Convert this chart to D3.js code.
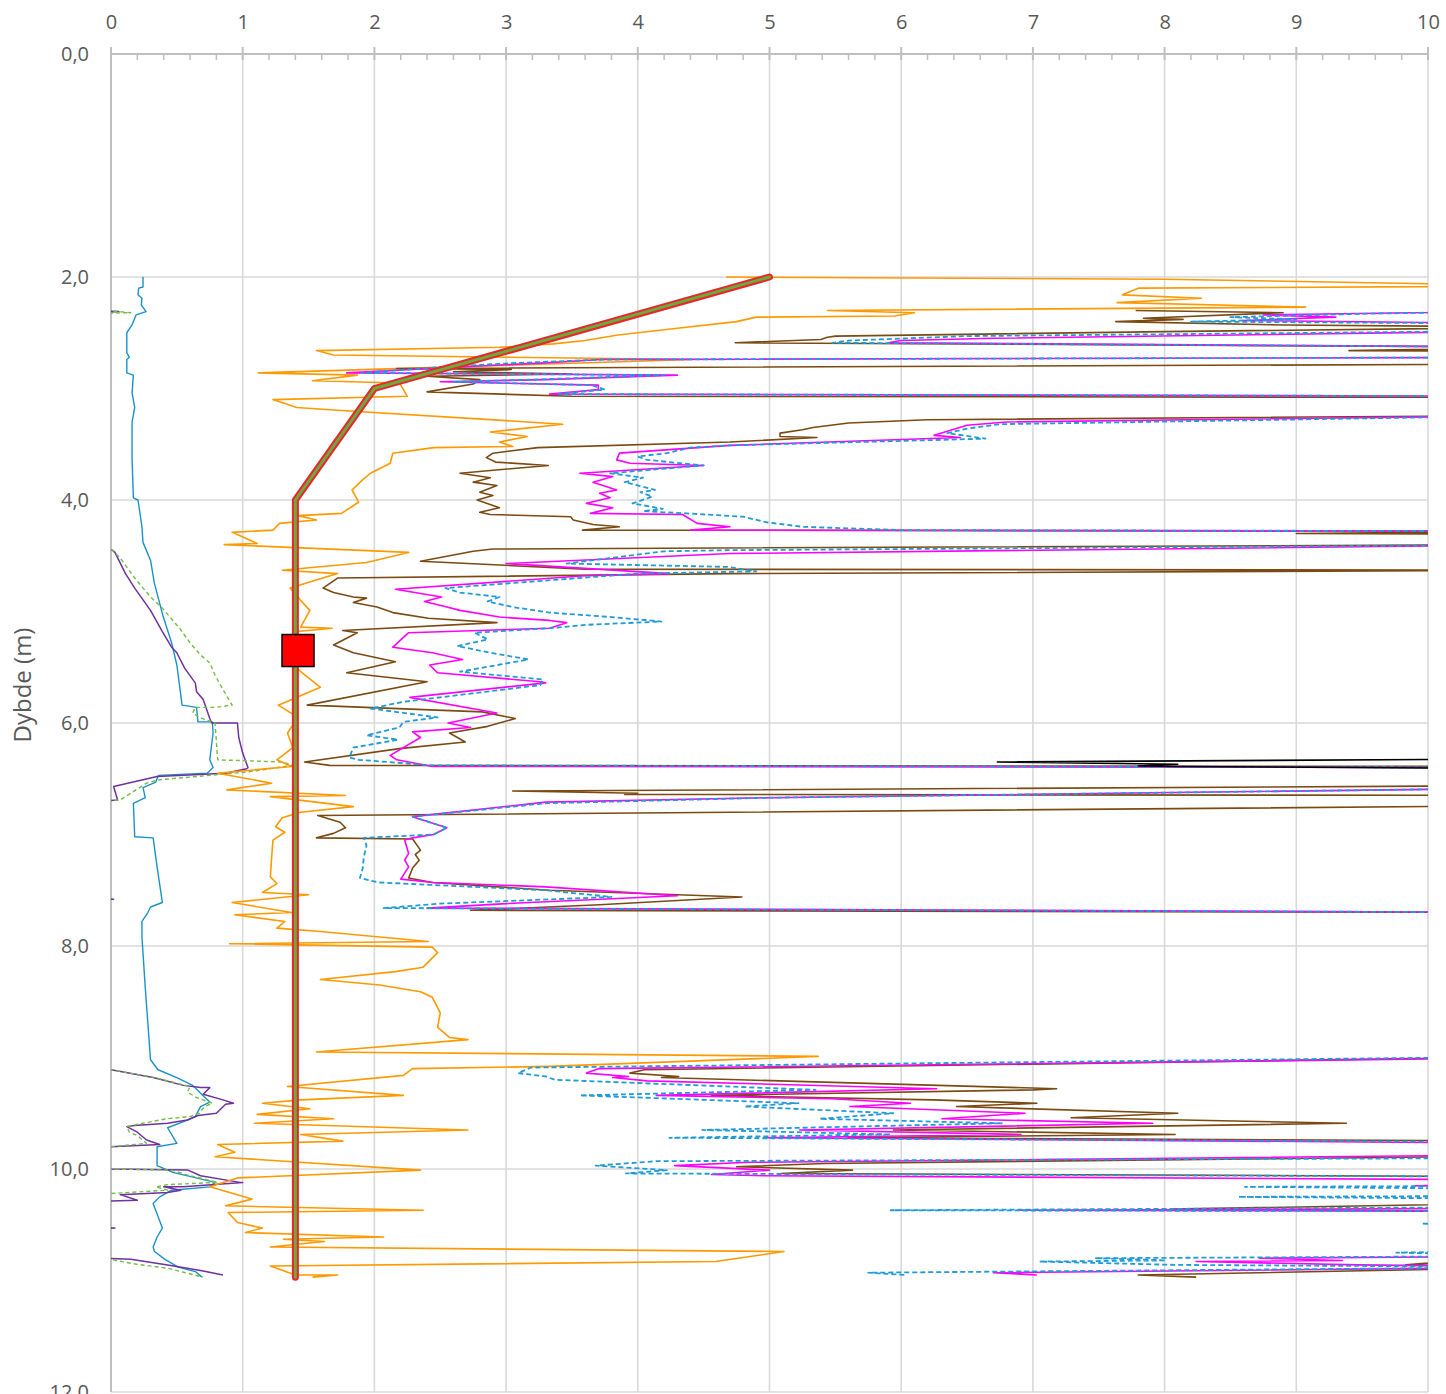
<!DOCTYPE html>
<html>
<head>
<meta charset="utf-8">
<script src="https://cdn.jsdelivr.net/npm/d3@7"></script>
<style>
  html, body { margin: 0; padding: 0; background: #fff; }
  svg { display: block; font-family: "Open Sans", "Noto Sans", "Liberation Sans", sans-serif; }
</style>
</head>
<body>
<svg id="chart" width="1446" height="1394"></svg>
<script>
// ---- axis ranges and tick labels ----
const xTicks = [0, 1, 2, 3, 4, 5, 6, 7, 8, 9, 10];
const yTicks = [0, 2, 4, 6, 8, 10, 12];
const yTitle = "Dybde (m)";

// ---- measured profiles: [depth (m), value] ----
const orangeSeries = [
  [2.00,4.67],[2.02,8.0],[2.08,11],[2.10,7.8],[2.16,7.68],[2.19,8.28],[2.23,7.64],[2.27,9.07],[2.30,5.44],[2.32,6.1],
  [2.35,5.95],[2.36,4.9],[2.40,4.75],[2.46,4.3],[2.52,3.85],[2.57,3.6],[2.60,3.36],[2.63,2.95],[2.66,1.56],[2.70,1.69],
  [2.74,4.42],[2.86,1.12],[2.88,1.87],[2.93,1.53],[2.95,2.19],[3.07,2.25],[3.10,1.23],[3.13,1.31],[3.17,1.41],[3.19,1.66],
  [3.32,3.43],[3.39,2.88],[3.43,3.16],[3.48,2.95],[3.52,3.05],[3.53,2.45],[3.58,2.14],[3.67,2.12],[3.76,1.97],[3.82,1.91],
  [3.91,1.83],[4.02,1.88],[4.12,1.75],[4.14,1.42],[4.18,1.56],[4.21,1.28],[4.27,1.23],[4.29,0.92],[4.39,1.11],[4.40,0.86],
  [4.47,2.26],[4.56,1.94],[4.63,1.30],[4.66,1.72],[4.79,1.36],[4.90,1.44],[4.99,1.51],[5.14,1.44],[5.15,1.68],[5.18,1.41],
  [5.52,1.42],[5.68,1.59],[5.84,1.27],[5.95,1.42],[6.09,1.34],[6.22,1.38],[6.33,1.26],[6.39,1.37],[6.45,0.81],[6.54,1.22],
  [6.60,0.88],[6.65,1.78],[6.66,1.21],[6.75,1.84],[6.80,1.44],[6.85,1.30],[6.93,1.25],[6.98,1.32],[7.05,1.23],[7.20,1.22],
  [7.38,1.21],[7.44,1.26],[7.52,1.15],[7.54,1.50],[7.61,0.92],[7.70,1.37],[7.72,0.94],[7.78,1.32],[7.84,1.26],[7.87,1.59],
  [7.96,2.41],[7.98,0.90],[8.01,2.44],[8.06,2.48],[8.19,2.37],[8.23,2.16],[8.30,1.59],[8.35,2.04],[8.41,2.35],[8.46,2.44],
  [8.60,2.50],[8.73,2.48],[8.82,2.57],[8.84,2.71],[8.95,1.56],[8.99,5.37],[9.08,3.33],[9.10,2.29],[9.16,2.22],[9.26,1.34],
  [9.34,2.22],[9.38,1.44],[9.41,1.15],[9.46,1.51],[9.51,1.11],[9.55,1.69],[9.59,1.09],[9.65,2.71],[9.69,1.44],[9.75,1.76],
  [9.78,0.81],[9.85,0.94],[9.89,0.79],[10.01,2.35],[10.08,0.96],[10.16,0.75],[10.27,1.07],[10.33,0.87],[10.37,2.37],[10.39,0.89],
  [10.48,0.96],[10.53,1.15],[10.57,1.02],[10.61,2.07],[10.63,1.31],[10.65,1.62],[10.70,1.21],[10.74,5.11],[10.83,4.59],[10.87,1.21],
  [10.95,1.40],[10.95,1.72],[10.97,1.53]
];

const brownSeries = [
  [2.30,7.78],[2.32,8.9],[2.37,7.84],[2.38,8.14],[2.40,7.63],[2.43,8.9],[2.45,11],[2.49,8.0],[2.53,5.5],[2.54,5.44],
  [2.56,5.39],[2.59,4.74],[2.63,11],[2.66,9.4],[2.67,11],[2.78,11],[2.82,2.17],[2.83,3.04],[2.85,2.6],[2.87,3.5],
  [2.89,2.4],[2.92,2.8],[2.96,2.75],[3.03,2.4],[3.07,3.5],[3.08,11],[3.24,11],[3.28,6.2],[3.31,5.6],[3.35,5.33],
  [3.37,5.25],[3.40,5.08],[3.43,5.08],[3.44,5.36],[3.48,4.70],[3.53,3.24],[3.58,2.90],[3.62,2.85],[3.66,2.92],[3.69,3.32],
  [3.76,2.65],[3.80,2.88],[3.84,2.75],[3.87,2.93],[3.93,2.80],[3.96,2.90],[4.00,2.78],[4.07,2.95],[4.11,2.80],[4.13,2.88],
  [4.15,3.49],[4.18,3.51],[4.22,3.66],[4.24,3.86],[4.27,3.58],[4.28,11],[4.30,9.0],[4.31,11],[4.40,11],[4.43,4.6],
  [4.44,2.9],[4.46,2.75],[4.55,2.35],[4.62,3.6],[4.63,11],[4.66,4.7],[4.70,1.72],[4.79,1.61],[4.83,1.69],[4.87,1.84],
  [4.88,1.94],[4.92,1.84],[4.96,2.02],[5.01,2.14],[5.06,2.41],[5.10,2.93],[5.17,1.76],[5.19,1.87],[5.30,1.69],[5.37,1.84],
  [5.45,2.16],[5.55,1.79],[5.63,2.40],[5.84,1.49],[5.90,2.82],[5.96,3.07],[6.03,2.86],[6.09,2.57],[6.17,2.69],[6.23,2.19],
  [6.35,1.47],[6.38,1.66],[6.39,11],[6.56,11],[6.61,3.05],[6.63,4.0],[6.64,3.9],[6.65,11],[6.74,11],[6.83,1.57],
  [6.89,1.74],[6.94,1.78],[6.99,1.69],[7.03,1.56],[7.04,2.29],[7.14,2.35],[7.18,2.31],[7.23,2.34],[7.30,2.29],[7.39,2.26],
  [7.43,2.44],[7.50,3.33],[7.56,4.79],[7.63,3.71],[7.68,2.73],[7.70,11],[8.99,11],[9.11,4.05],[9.14,3.94],[9.17,4.31],
  [9.18,4.18],[9.28,7.18],[9.29,7.0],[9.34,4.56],[9.38,6.24],[9.41,7.03],[9.44,6.42],[9.50,8.10],[9.54,7.29],[9.59,9.38],
  [9.65,5.94],[9.69,8.08],[9.72,5.59],[9.75,11],[9.88,11],[9.95,5.42],[9.98,4.75],[10.01,5.63],[10.04,5.09],[10.07,11],
  [10.30,11],[10.36,8.06],[10.38,11],[10.75,11],[10.86,9.83],[10.88,11],[10.95,7.80],[10.97,8.24]
];

const magentaSeries = [
  [2.30,11],[2.34,8.75],[2.36,9.3],[2.39,8.6],[2.42,11],[2.48,11],[2.55,6.7],[2.57,6.0],[2.59,5.9],[2.63,11],
  [2.72,11],[2.74,3.72],[2.77,3.3],[2.80,2.75],[2.86,1.79],[2.88,4.3],[2.92,3.3],[2.94,2.5],[2.97,3.7],[3.01,3.7],
  [3.05,3.33],[3.07,11],[3.24,11],[3.30,6.8],[3.33,6.5],[3.42,6.25],[3.44,6.45],[3.51,4.70],[3.58,3.86],[3.64,3.84],
  [3.67,3.94],[3.69,4.50],[3.76,3.56],[3.79,3.81],[3.84,3.66],[3.91,3.84],[3.94,3.71],[3.98,3.79],[4.03,3.61],[4.07,3.81],
  [4.12,3.64],[4.13,4.34],[4.21,4.45],[4.24,4.70],[4.27,4.40],[4.28,11],[4.40,11],[4.48,4.7],[4.57,3.0],[4.66,4.24],
  [4.68,3.6],[4.80,2.16],[4.87,2.51],[4.91,2.38],[4.95,2.52],[4.99,2.65],[5.05,2.95],[5.08,3.33],[5.10,3.46],[5.15,3.33],
  [5.19,2.26],[5.32,2.14],[5.37,2.44],[5.43,2.67],[5.48,2.42],[5.55,2.48],[5.63,3.26],[5.64,3.30],[5.77,2.27],[5.91,2.93],
  [6.00,2.56],[6.04,2.73],[6.08,2.29],[6.13,2.35],[6.29,2.12],[6.33,2.17],[6.39,2.44],[6.40,11],[6.58,11],[6.67,5.0],
  [6.71,3.3],[6.84,2.29],[6.94,2.55],[7.00,2.45],[7.03,2.29],[7.05,2.23],[7.17,2.26],[7.23,2.23],[7.29,2.26],[7.40,2.2],
  [7.43,2.45],[7.47,3.3],[7.55,4.3],[7.62,3.0],[7.66,2.4],[7.70,11],[9.00,11],[9.10,3.70],[9.14,3.61],[9.17,3.93],
  [9.18,3.81],[9.21,4.07],[9.28,6.27],[9.34,4.14],[9.37,5.47],[9.41,6.07],[9.44,5.61],[9.50,6.94],[9.55,6.31],[9.59,7.91],
  [9.65,5.23],[9.69,6.91],[9.72,4.96],[9.77,11],[9.87,11],[9.94,4.84],[9.97,4.28],[10.01,5.0],[10.05,4.56],[10.06,4.96],
  [10.10,11],[10.14,11],[10.15,9.9],[10.17,11],[10.35,11],[10.37,6.89],[10.38,11],[10.78,11],[10.80,8.72],[10.82,9.35],
  [10.83,8.24],[10.86,9.47],[10.88,11],[10.93,6.70],[10.95,7.03]
];

const cyanSeries = [
  [2.30,11],[2.33,9.5],[2.36,8.5],[2.38,9.0],[2.40,8.2],[2.42,11],[2.48,11],[2.53,6.5],[2.57,5.6],[2.59,5.48],
  [2.63,11],[2.72,11],[2.74,3.75],[2.77,3.1],[2.80,2.6],[2.86,1.9],[2.88,4.2],[2.92,3.2],[2.94,2.6],[2.97,3.65],
  [3.01,3.75],[3.05,3.4],[3.07,11],[3.24,11],[3.32,6.75],[3.36,6.5],[3.40,6.35],[3.45,6.64],[3.51,4.70],[3.53,4.40],
  [3.58,4.22],[3.61,4.00],[3.64,4.07],[3.69,4.50],[3.76,3.79],[3.80,4.04],[3.84,3.90],[3.91,4.13],[3.93,4.02],[3.97,4.11],
  [4.03,3.96],[4.08,4.19],[4.10,4.04],[4.12,4.37],[4.15,4.80],[4.20,4.98],[4.24,5.25],[4.27,6.0],[4.28,11],[4.40,11],
  [4.45,4.7],[4.46,4.2],[4.57,3.46],[4.60,4.68],[4.64,4.9],[4.66,4.0],[4.79,2.54],[4.83,2.65],[4.87,2.95],[4.91,2.86],
  [4.96,3.05],[5.01,3.33],[5.05,3.8],[5.09,4.18],[5.12,3.6],[5.15,3.33],[5.19,2.76],[5.25,2.86],[5.31,2.63],[5.37,2.88],
  [5.43,3.17],[5.54,2.65],[5.61,3.28],[5.66,3.26],[5.81,2.22],[5.87,1.97],[5.95,2.48],[5.99,2.22],[6.04,2.19],[6.11,1.94],
  [6.15,2.18],[6.22,1.84],[6.31,1.81],[6.33,1.88],[6.38,2.44],[6.40,11],[6.58,11],[6.67,5.0],[6.72,3.3],[6.84,2.29],
  [6.94,2.55],[7.00,2.45],[7.03,1.92],[7.10,1.94],[7.20,1.92],[7.31,1.91],[7.39,1.89],[7.43,2.03],[7.50,3.3],[7.56,3.8],
  [7.62,2.5],[7.66,2.07],[7.70,11],[8.99,11],[9.09,3.19],[9.14,3.09],[9.17,3.30],[9.20,3.37],[9.29,5.35],[9.34,3.56],
  [9.41,5.22],[9.44,4.81],[9.50,5.94],[9.55,5.38],[9.59,6.77],[9.65,4.49],[9.69,5.92],[9.72,4.24],[9.76,11],[9.90,11],
  [9.93,4.14],[9.97,3.68],[10.01,4.22],[10.04,3.91],[10.07,11],[10.15,11],[10.16,8.61],[10.18,11],[10.24,11],[10.25,8.56],
  [10.27,11],[10.34,11],[10.37,5.92],[10.38,11],[10.48,11],[10.49,9.95],[10.52,11],[10.73,11],[10.75,9.76],[10.78,11],
  [10.80,7.47],[10.82,8.01],[10.83,7.05],[10.86,8.08],[10.88,11],[10.93,5.75],[10.95,6.03]
];

const tealSeries = [
  [2.00,0.243],[2.09,0.243],[2.10,0.21],[2.16,0.205],[2.19,0.235],[2.25,0.23],[2.31,0.266],[2.34,0.19],[2.43,0.16],[2.50,0.12],
  [2.68,0.12],[2.72,0.14],[2.74,0.12],[2.86,0.12],[2.88,0.17],[3.04,0.16],[3.17,0.18],[3.30,0.16],[3.64,0.16],[3.98,0.17],
  [4.00,0.205],[4.24,0.235],[4.38,0.243],[4.54,0.30],[4.75,0.33],[5.04,0.395],[5.28,0.46],[5.48,0.50],[5.84,0.54],[5.86,0.65],
  [5.99,0.66],[5.99,0.77],[6.09,0.775],[6.33,0.75],[6.40,0.775],[6.45,0.73],[6.47,0.36],[6.53,0.34],[6.58,0.243],[6.67,0.26],
  [6.72,0.17],[7.02,0.18],[7.03,0.32],[7.29,0.35],[7.61,0.39],[7.65,0.30],[7.70,0.28],[7.78,0.235],[7.92,0.235],[8.37,0.26],
  [9.02,0.30],[9.11,0.357],[9.18,0.50],[9.25,0.62],[9.32,0.68],[9.40,0.75],[9.44,0.68],[9.53,0.64],[9.56,0.585],[9.63,0.43],
  [9.77,0.50],[9.80,0.35],[9.97,0.35],[10.03,0.47],[10.12,0.79],[10.16,0.75],[10.19,0.46],[10.25,0.37],[10.31,0.32],[10.53,0.39],
  [10.61,0.35],[10.70,0.32],[10.74,0.33],[10.81,0.41],[10.88,0.51],[10.92,0.64],[10.97,0.69]
];

const purpleSeries = [
  [2.29,-0.3],[2.31,0.06],[2.33,-0.3],[4.43,-0.3],[4.45,0.01],[4.47,0.03],[4.66,0.11],[4.79,0.18],[4.99,0.30],[5.18,0.39],
  [5.32,0.46],[5.37,0.50],[5.51,0.56],[5.64,0.64],[5.72,0.65],[5.79,0.70],[5.96,0.75],[6.00,0.765],[6.00,0.96],[6.13,0.97],
  [6.27,1.0],[6.40,1.04],[6.41,1.03],[6.45,0.87],[6.48,0.35],[6.57,0.02],[6.69,0.05],[6.72,-0.3],[7.55,-0.3],[7.58,0.02],
  [7.60,-0.3],[9.10,-0.3],[9.11,0.0],[9.18,0.32],[9.25,0.55],[9.27,0.68],[9.27,0.75],[9.33,0.70],[9.38,0.85],[9.41,0.93],
  [9.42,0.87],[9.50,0.80],[9.52,0.66],[9.56,0.58],[9.59,0.43],[9.61,0.18],[9.62,0.12],[9.67,0.20],[9.74,0.27],[9.78,0.37],
  [9.80,0.0],[9.82,-0.3],[9.98,-0.3],[10.00,0.0],[10.01,0.585],[10.06,0.68],[10.12,0.98],[10.12,1.0],[10.16,0.55],[10.16,0.40],
  [10.19,0.53],[10.21,0.43],[10.23,0.07],[10.28,0.20],[10.30,-0.3],[10.52,-0.3],[10.53,0.03],[10.55,-0.3],[10.79,-0.3],[10.81,0.15],
  [10.86,0.43],[10.91,0.68],[10.95,0.85]
];

const greenSeries = [
  [2.29,-0.3],[2.31,0.06],[2.32,0.15],[2.33,-0.3],[4.43,-0.3],[4.45,0.01],[4.52,0.07],[4.70,0.18],[4.87,0.30],[4.97,0.39],
  [5.15,0.52],[5.28,0.60],[5.39,0.68],[5.46,0.75],[5.57,0.79],[5.70,0.85],[5.84,0.92],[5.86,0.79],[5.86,0.64],[5.91,0.62],
  [5.95,0.67],[6.00,0.79],[6.33,0.81],[6.35,1.3],[6.38,1.38],[6.44,1.03],[6.51,0.36],[6.54,0.27],[6.69,0.07],[6.72,-0.3],
  [9.10,-0.3],[9.11,0.0],[9.18,0.33],[9.26,0.60],[9.31,0.58],[9.36,0.65],[9.41,0.77],[9.44,0.71],[9.50,0.67],[9.53,0.60],
  [9.55,0.42],[9.59,0.24],[9.62,0.12],[9.67,0.14],[9.70,0.20],[9.77,0.27],[9.80,0.0],[9.82,-0.3],[9.98,-0.3],[10.00,0.0],
  [10.01,0.46],[10.05,0.57],[10.12,0.81],[10.14,0.43],[10.16,0.34],[10.19,0.43],[10.22,0.0],[10.24,-0.3],[10.79,-0.3],[10.81,0.0],
  [10.85,0.17],[10.89,0.43],[10.97,0.70]
];

const blackSeries = [
  [6.32,11],[6.35,6.73],[6.37,8.1],[6.385,7.8],[6.39,8.1],[6.41,11]
];

// design profile and the marked point
const designLine = [[2.0,5.0],[3.0,2.0],[4.0,1.4],[10.97,1.4]];
const markerPoint = [[5.35,1.42]];

// ---- layout ----
const svg = d3.select("#chart");
const plot = { left: 111, top: 54, right: 1428, bottom: 1392 };
const x = d3.scaleLinear().domain([0, 10]).range([plot.left, plot.right]);
const y = d3.scaleLinear().domain([0, 12]).range([plot.top, plot.bottom]);

svg.append("rect").attr("width", 1446).attr("height", 1394).attr("fill", "#fff");

svg.append("defs").append("clipPath").attr("id", "plotClip")
  .append("rect")
  .attr("x", plot.left).attr("y", plot.top)
  .attr("width", plot.right - plot.left).attr("height", plot.bottom - plot.top);

// gridlines
const grid = svg.append("g").attr("stroke", "#d9d9d9").attr("stroke-width", 1.6);
grid.selectAll("line.v").data(xTicks.slice(1)).join("line")
  .attr("x1", d => x(d)).attr("x2", d => x(d))
  .attr("y1", plot.top).attr("y2", plot.bottom);
grid.selectAll("line.h").data(yTicks.slice(1)).join("line")
  .attr("x1", plot.left).attr("x2", plot.right)
  .attr("y1", d => y(d)).attr("y2", d => y(d));

// axis lines and tick marks
const axisColor = "#bfbfbf";
svg.append("line").attr("x1", plot.left).attr("x2", plot.right)
  .attr("y1", plot.top).attr("y2", plot.top).attr("stroke", axisColor).attr("stroke-width", 2);
svg.append("line").attr("x1", plot.left).attr("x2", plot.left)
  .attr("y1", plot.top - 7).attr("y2", plot.bottom).attr("stroke", axisColor).attr("stroke-width", 2);
const minorTicks = d3.range(0, 10.001, 0.2).filter(v => Math.abs(v - Math.round(v)) > 1e-6);
svg.append("g").selectAll("line").data(minorTicks).join("line")
  .attr("x1", d => x(d)).attr("x2", d => x(d))
  .attr("y1", plot.top).attr("y2", plot.top + 6)
  .attr("stroke", axisColor).attr("stroke-width", 1.5);
svg.append("g").selectAll("line").data(xTicks).join("line")
  .attr("x1", d => x(d)).attr("x2", d => x(d))
  .attr("y1", plot.top - 7).attr("y2", plot.top + 6)
  .attr("stroke", axisColor).attr("stroke-width", 2);

// tick labels via d3 axes
const labelColor = "#595959";
const topAxis = svg.append("g").attr("transform", `translate(0,${plot.top})`)
  .call(d3.axisTop(x).tickValues(xTicks).tickSize(0).tickPadding(25).tickFormat(d3.format("d")));
const leftAxis = svg.append("g").attr("transform", `translate(${plot.left},0)`)
  .call(d3.axisLeft(y).tickValues(yTicks).tickSize(0).tickPadding(22)
    .tickFormat(d => d3.format(".1f")(d).replace(".", ",")));
[topAxis, leftAxis].forEach(g => {
  g.select(".domain").remove();
  g.selectAll("text").attr("fill", labelColor).style("font-size", "20px")
    .style("font-family", "'Open Sans', 'Noto Sans', sans-serif");
});

svg.append("text")
  .attr("transform", `translate(31,685) rotate(-90)`)
  .attr("text-anchor", "middle")
  .attr("fill", labelColor)
  .style("font-size", "24px")
  .text(yTitle);

// ---- data lines ----
const line = d3.line().x(d => x(d[1])).y(d => y(d[0]));
const layer = svg.append("g").attr("clip-path", "url(#plotClip)");

const seriesDefs = [
  { data: tealSeries,    color: "#1a92c9", width: 1.4 },
  { data: purpleSeries,  color: "#7030a0", width: 1.5 },
  { data: greenSeries,   color: "#70bf44", width: 1.4, dash: "4,3" },
  { data: orangeSeries,  color: "#ff9900", width: 1.6 },
  { data: brownSeries,   color: "#7b4a12", width: 1.6 },
  { data: magentaSeries, color: "#ff00ff", width: 1.6 },
  { data: cyanSeries,    color: "#1f9bd7", width: 1.8, dash: "5,3" },
  { data: blackSeries,   color: "#000000", width: 1.6 }
];

seriesDefs.forEach(s => {
  layer.append("path")
    .datum(s.data)
    .attr("d", line)
    .attr("fill", "none")
    .attr("stroke", s.color)
    .attr("stroke-width", s.width)
    .attr("stroke-linejoin", "round")
    .attr("stroke-dasharray", s.dash || null);
});

// design profile: red casing with green core
layer.append("path").datum(designLine).attr("d", line)
  .attr("fill", "none").attr("stroke", "#e8262b").attr("stroke-width", 7)
  .attr("stroke-linejoin", "round").attr("stroke-linecap", "round");
layer.append("path").datum(designLine).attr("d", line)
  .attr("fill", "none").attr("stroke", "#6aab3c").attr("stroke-width", 3)
  .attr("stroke-linejoin", "round").attr("stroke-linecap", "round");

// marked point
svg.append("g").selectAll("rect").data(markerPoint).join("rect")
  .attr("x", d => x(d[1]) - 16).attr("y", d => y(d[0]) - 16)
  .attr("width", 32).attr("height", 32)
  .attr("fill", "#ff0000").attr("stroke", "#000").attr("stroke-width", 1.5);
</script>
</body>
</html>
